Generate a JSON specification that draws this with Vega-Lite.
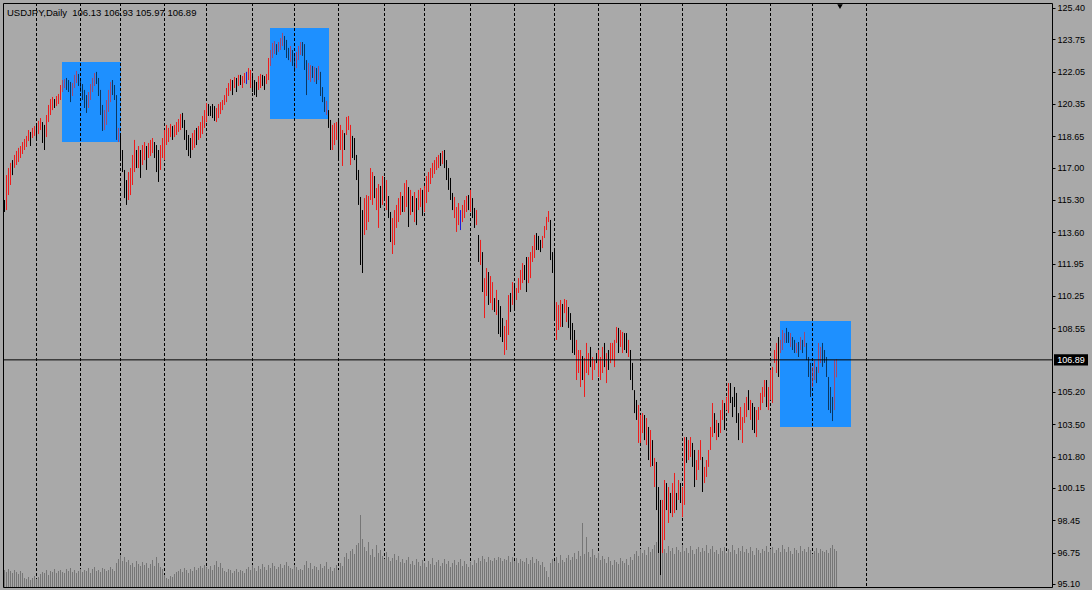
{
"$schema": "https://vega.github.io/schema/vega-lite/v6.json",
"width": 1049, "height": 584,
"autosize": "none",
"padding": {"left": 3, "top": 3, "right": 40, "bottom": 3},
"background": "#a9a9a9",
"config": {"view": {"stroke": "#000000", "strokeWidth": 1, "fill": "#a9a9a9"}, "font": "Liberation Sans"},
"datasets": {
"one": [{"k": 1}],
"grid": [{"d":16},{"d":38},{"d":58},{"d":80},{"d":101},{"d":124},{"d":145},{"d":167},{"d":190},{"d":210},{"d":233},{"d":255},{"d":275},{"d":297},{"d":318},{"d":339},{"d":361},{"d":383},{"d":404},{"d":431}],
"boxes": [{"a":28.75,"b":58.25,"p1":122.56,"p2":118.35},{"a":132.75,"b":162.25,"p1":124.35,"p2":119.56},{"a":387.75,"b":423.25,"p1":108.94,"p2":103.36}],
"bars": [
{"i":0,"h":115.30,"l":114.67,"u":0,"v":17},
{"i":1,"h":116.61,"l":114.77,"u":1,"v":15},
{"i":2,"h":116.98,"l":115.56,"u":1,"v":18},
{"i":3,"h":117.25,"l":116.09,"u":1,"v":16},
{"i":4,"h":117.40,"l":116.61,"u":0,"v":14},
{"i":5,"h":117.67,"l":116.99,"u":1,"v":17},
{"i":6,"h":117.88,"l":117.14,"u":1,"v":15},
{"i":7,"h":118.04,"l":117.30,"u":1,"v":13},
{"i":8,"h":118.14,"l":117.51,"u":1,"v":16},
{"i":9,"h":118.35,"l":117.72,"u":1,"v":14},
{"i":10,"h":118.51,"l":117.93,"u":1,"v":9},
{"i":11,"h":118.67,"l":118.09,"u":1,"v":8},
{"i":12,"h":118.98,"l":118.40,"u":1,"v":10},
{"i":13,"h":118.88,"l":118.14,"u":0,"v":7},
{"i":14,"h":119.09,"l":118.56,"u":1,"v":9},
{"i":15,"h":119.19,"l":118.67,"u":1,"v":11},
{"i":16,"h":119.25,"l":118.46,"u":0,"v":8},
{"i":17,"h":119.46,"l":118.77,"u":1,"v":10},
{"i":18,"h":119.61,"l":118.98,"u":1,"v":13},
{"i":19,"h":119.40,"l":118.30,"u":0,"v":15},
{"i":20,"h":119.25,"l":117.93,"u":0,"v":14},
{"i":21,"h":119.77,"l":118.61,"u":1,"v":17},
{"i":22,"h":120.30,"l":119.40,"u":1,"v":12},
{"i":23,"h":120.61,"l":119.77,"u":1,"v":16},
{"i":24,"h":120.72,"l":120.03,"u":1,"v":15},
{"i":25,"h":120.61,"l":120.14,"u":0,"v":18},
{"i":26,"h":120.77,"l":120.24,"u":1,"v":14},
{"i":27,"h":120.88,"l":120.35,"u":1,"v":16},
{"i":28,"h":121.35,"l":120.56,"u":1,"v":17},
{"i":29,"h":121.61,"l":120.98,"u":1,"v":15},
{"i":30,"h":121.66,"l":121.19,"u":1,"v":14},
{"i":31,"h":121.72,"l":121.09,"u":0,"v":18},
{"i":32,"h":121.61,"l":120.98,"u":0,"v":16},
{"i":33,"h":121.51,"l":120.45,"u":0,"v":19},
{"i":34,"h":121.45,"l":120.77,"u":1,"v":15},
{"i":35,"h":121.88,"l":121.19,"u":1,"v":17},
{"i":36,"h":122.09,"l":121.45,"u":1,"v":14},
{"i":37,"h":121.93,"l":121.30,"u":0,"v":16},
{"i":38,"h":121.72,"l":120.98,"u":0,"v":18},
{"i":39,"h":121.40,"l":120.56,"u":0,"v":15},
{"i":40,"h":121.09,"l":120.14,"u":0,"v":17},
{"i":41,"h":120.82,"l":119.88,"u":0,"v":16},
{"i":42,"h":120.98,"l":120.14,"u":1,"v":19},
{"i":43,"h":121.40,"l":120.56,"u":1,"v":14},
{"i":44,"h":121.72,"l":120.98,"u":1,"v":18},
{"i":45,"h":121.98,"l":121.30,"u":1,"v":20},
{"i":46,"h":122.04,"l":121.40,"u":0,"v":16},
{"i":47,"h":121.72,"l":120.77,"u":0,"v":17},
{"i":48,"h":121.09,"l":119.77,"u":0,"v":15},
{"i":49,"h":120.30,"l":118.93,"u":0,"v":19},
{"i":50,"h":120.03,"l":118.98,"u":1,"v":18},
{"i":51,"h":120.56,"l":119.25,"u":1,"v":16},
{"i":52,"h":121.09,"l":119.93,"u":1,"v":17},
{"i":53,"h":121.51,"l":120.45,"u":1,"v":20},
{"i":54,"h":121.61,"l":120.82,"u":0,"v":18},
{"i":55,"h":121.35,"l":120.56,"u":0,"v":16},
{"i":56,"h":120.82,"l":118.46,"u":0,"v":24},
{"i":57,"h":119.09,"l":118.35,"u":1,"v":28},
{"i":58,"h":118.82,"l":117.40,"u":0,"v":32},
{"i":59,"h":117.93,"l":116.77,"u":0,"v":26},
{"i":60,"h":116.88,"l":115.40,"u":0,"v":30},
{"i":61,"h":116.35,"l":115.04,"u":0,"v":25},
{"i":62,"h":116.77,"l":115.30,"u":1,"v":27},
{"i":63,"h":116.98,"l":115.56,"u":1,"v":22},
{"i":64,"h":117.67,"l":116.09,"u":1,"v":24},
{"i":65,"h":118.46,"l":116.77,"u":1,"v":20},
{"i":66,"h":117.93,"l":116.98,"u":0,"v":26},
{"i":67,"h":118.14,"l":116.98,"u":1,"v":23},
{"i":68,"h":117.93,"l":116.46,"u":0,"v":21},
{"i":69,"h":118.19,"l":117.14,"u":1,"v":25},
{"i":70,"h":118.35,"l":117.40,"u":1,"v":22},
{"i":71,"h":118.14,"l":116.88,"u":0,"v":24},
{"i":72,"h":118.30,"l":117.51,"u":1,"v":19},
{"i":73,"h":118.46,"l":117.61,"u":1,"v":23},
{"i":74,"h":118.56,"l":117.77,"u":1,"v":27},
{"i":75,"h":118.35,"l":117.51,"u":0,"v":21},
{"i":76,"h":118.19,"l":116.77,"u":0,"v":30},
{"i":77,"h":117.93,"l":116.25,"u":0,"v":24},
{"i":78,"h":118.19,"l":116.88,"u":1,"v":20},
{"i":79,"h":118.56,"l":117.51,"u":1,"v":18},
{"i":80,"h":118.98,"l":117.40,"u":1,"v":12},
{"i":81,"h":119.25,"l":118.19,"u":1,"v":9},
{"i":82,"h":119.09,"l":118.35,"u":1,"v":8},
{"i":83,"h":119.30,"l":118.61,"u":1,"v":11},
{"i":84,"h":119.19,"l":118.46,"u":0,"v":10},
{"i":85,"h":119.25,"l":118.61,"u":1,"v":13},
{"i":86,"h":119.40,"l":118.72,"u":1,"v":15},
{"i":87,"h":119.56,"l":118.88,"u":1,"v":16},
{"i":88,"h":119.82,"l":118.98,"u":1,"v":18},
{"i":89,"h":119.88,"l":119.09,"u":0,"v":15},
{"i":90,"h":119.51,"l":118.46,"u":0,"v":19},
{"i":91,"h":118.98,"l":117.93,"u":0,"v":17},
{"i":92,"h":118.72,"l":117.61,"u":0,"v":14},
{"i":93,"h":118.56,"l":117.51,"u":0,"v":18},
{"i":94,"h":118.82,"l":117.93,"u":1,"v":16},
{"i":95,"h":118.98,"l":118.04,"u":1,"v":20},
{"i":96,"h":119.09,"l":118.19,"u":0,"v":17},
{"i":97,"h":119.19,"l":118.46,"u":1,"v":19},
{"i":98,"h":119.40,"l":118.56,"u":1,"v":21},
{"i":99,"h":119.72,"l":118.77,"u":1,"v":19},
{"i":100,"h":120.03,"l":119.09,"u":1,"v":22},
{"i":101,"h":120.40,"l":119.40,"u":1,"v":20},
{"i":102,"h":120.35,"l":119.72,"u":0,"v":18},
{"i":103,"h":120.24,"l":119.72,"u":0,"v":21},
{"i":104,"h":120.35,"l":119.61,"u":0,"v":17},
{"i":105,"h":120.24,"l":119.46,"u":0,"v":22},
{"i":106,"h":120.14,"l":119.40,"u":1,"v":26},
{"i":107,"h":120.35,"l":119.61,"u":1,"v":20},
{"i":108,"h":120.45,"l":119.82,"u":1,"v":24},
{"i":109,"h":120.56,"l":120.03,"u":1,"v":19},
{"i":110,"h":120.82,"l":120.30,"u":1,"v":16},
{"i":111,"h":121.19,"l":120.45,"u":1,"v":15},
{"i":112,"h":121.45,"l":120.77,"u":1,"v":18},
{"i":113,"h":121.66,"l":121.04,"u":1,"v":17},
{"i":114,"h":121.61,"l":120.82,"u":0,"v":14},
{"i":115,"h":121.77,"l":121.19,"u":1,"v":16},
{"i":116,"h":121.72,"l":120.98,"u":0,"v":18},
{"i":117,"h":121.88,"l":121.30,"u":1,"v":15},
{"i":118,"h":121.88,"l":121.35,"u":0,"v":17},
{"i":119,"h":121.82,"l":121.19,"u":1,"v":16},
{"i":120,"h":121.98,"l":121.45,"u":1,"v":14},
{"i":121,"h":122.04,"l":121.40,"u":2,"v":18},
{"i":122,"h":122.24,"l":121.61,"u":1,"v":20},
{"i":123,"h":122.14,"l":121.19,"u":1,"v":17},
{"i":124,"h":121.82,"l":120.98,"u":0,"v":22},
{"i":125,"h":121.61,"l":120.82,"u":0,"v":19},
{"i":126,"h":121.51,"l":120.72,"u":0,"v":16},
{"i":127,"h":121.82,"l":121.09,"u":1,"v":21},
{"i":128,"h":121.93,"l":121.19,"u":1,"v":18},
{"i":129,"h":121.88,"l":121.30,"u":0,"v":23},
{"i":130,"h":121.82,"l":121.09,"u":0,"v":20},
{"i":131,"h":121.93,"l":121.40,"u":1,"v":17},
{"i":132,"h":122.77,"l":121.61,"u":1,"v":22},
{"i":133,"h":123.19,"l":122.35,"u":1,"v":19},
{"i":134,"h":123.56,"l":122.77,"u":1,"v":24},
{"i":135,"h":123.66,"l":122.98,"u":1,"v":21},
{"i":136,"h":123.50,"l":122.93,"u":0,"v":18},
{"i":137,"h":123.61,"l":123.09,"u":1,"v":20},
{"i":138,"h":123.82,"l":123.19,"u":1,"v":23},
{"i":139,"h":124.09,"l":123.40,"u":1,"v":19},
{"i":140,"h":123.93,"l":123.19,"u":0,"v":22},
{"i":141,"h":123.72,"l":122.77,"u":0,"v":25},
{"i":142,"h":123.30,"l":122.66,"u":0,"v":21},
{"i":143,"h":123.40,"l":122.56,"u":1,"v":19},
{"i":144,"h":123.19,"l":122.35,"u":0,"v":18},
{"i":145,"h":122.88,"l":122.04,"u":0,"v":22},
{"i":146,"h":123.09,"l":122.24,"u":1,"v":20},
{"i":147,"h":123.40,"l":122.66,"u":1,"v":17},
{"i":148,"h":123.61,"l":122.93,"u":1,"v":18},
{"i":149,"h":123.61,"l":122.88,"u":0,"v":17},
{"i":150,"h":123.50,"l":122.14,"u":0,"v":22},
{"i":151,"h":122.66,"l":120.82,"u":0,"v":26},
{"i":152,"h":122.51,"l":121.61,"u":1,"v":19},
{"i":153,"h":122.40,"l":121.51,"u":1,"v":24},
{"i":154,"h":122.35,"l":121.72,"u":0,"v":18},
{"i":155,"h":122.30,"l":121.51,"u":1,"v":21},
{"i":156,"h":122.24,"l":121.40,"u":0,"v":20},
{"i":157,"h":122.35,"l":121.61,"u":1,"v":17},
{"i":158,"h":122.04,"l":120.77,"u":0,"v":23},
{"i":159,"h":121.24,"l":120.45,"u":0,"v":19},
{"i":160,"h":120.72,"l":119.93,"u":0,"v":21},
{"i":161,"h":120.51,"l":119.77,"u":1,"v":25},
{"i":162,"h":120.03,"l":119.09,"u":0,"v":18},
{"i":163,"h":119.51,"l":117.93,"u":0,"v":20},
{"i":164,"h":119.25,"l":117.93,"u":1,"v":16},
{"i":165,"h":119.35,"l":118.19,"u":1,"v":19},
{"i":166,"h":119.40,"l":118.46,"u":1,"v":22},
{"i":167,"h":119.51,"l":117.51,"u":0,"v":17},
{"i":168,"h":119.25,"l":117.93,"u":1,"v":24},
{"i":169,"h":118.98,"l":117.09,"u":1,"v":21},
{"i":170,"h":118.82,"l":117.93,"u":0,"v":30},
{"i":171,"h":119.67,"l":118.72,"u":1,"v":34},
{"i":172,"h":119.72,"l":118.98,"u":1,"v":28},
{"i":173,"h":119.25,"l":117.14,"u":1,"v":36},
{"i":174,"h":118.67,"l":117.51,"u":0,"v":38},
{"i":175,"h":118.56,"l":117.40,"u":0,"v":33},
{"i":176,"h":117.67,"l":116.35,"u":0,"v":42},
{"i":177,"h":116.88,"l":115.04,"u":0,"v":44},
{"i":178,"h":115.46,"l":111.88,"u":0,"v":72},
{"i":179,"h":114.77,"l":111.46,"u":0,"v":48},
{"i":180,"h":115.40,"l":113.46,"u":1,"v":40},
{"i":181,"h":115.56,"l":113.72,"u":1,"v":36},
{"i":182,"h":115.51,"l":114.14,"u":1,"v":45},
{"i":183,"h":116.98,"l":115.30,"u":1,"v":32},
{"i":184,"h":116.77,"l":115.04,"u":1,"v":38},
{"i":185,"h":116.56,"l":115.40,"u":0,"v":30},
{"i":186,"h":115.93,"l":114.77,"u":1,"v":42},
{"i":187,"h":116.14,"l":113.83,"u":1,"v":34},
{"i":188,"h":116.04,"l":114.88,"u":0,"v":37},
{"i":189,"h":116.56,"l":115.04,"u":1,"v":31},
{"i":190,"h":116.51,"l":115.30,"u":0,"v":28},
{"i":191,"h":116.35,"l":114.77,"u":1,"v":35},
{"i":192,"h":115.51,"l":114.35,"u":0,"v":30},
{"i":193,"h":114.67,"l":113.09,"u":0,"v":26},
{"i":194,"h":114.35,"l":112.46,"u":1,"v":29},
{"i":195,"h":114.77,"l":112.93,"u":1,"v":33},
{"i":196,"h":115.04,"l":113.83,"u":1,"v":27},
{"i":197,"h":115.40,"l":114.14,"u":1,"v":31},
{"i":198,"h":115.72,"l":114.51,"u":1,"v":25},
{"i":199,"h":115.51,"l":114.67,"u":0,"v":28},
{"i":200,"h":116.19,"l":114.67,"u":1,"v":24},
{"i":201,"h":116.35,"l":114.93,"u":1,"v":27},
{"i":202,"h":115.98,"l":113.88,"u":0,"v":30},
{"i":203,"h":115.83,"l":114.51,"u":1,"v":23},
{"i":204,"h":115.51,"l":114.67,"u":0,"v":26},
{"i":205,"h":115.72,"l":114.14,"u":1,"v":22},
{"i":206,"h":115.40,"l":113.98,"u":0,"v":28},
{"i":207,"h":115.83,"l":114.77,"u":1,"v":25},
{"i":208,"h":115.93,"l":114.93,"u":1,"v":21},
{"i":209,"h":115.83,"l":114.46,"u":0,"v":27},
{"i":210,"h":116.04,"l":114.67,"u":1,"v":24},
{"i":211,"h":116.56,"l":115.14,"u":1,"v":20},
{"i":212,"h":116.77,"l":115.72,"u":1,"v":26},
{"i":213,"h":116.98,"l":116.14,"u":1,"v":23},
{"i":214,"h":117.25,"l":116.46,"u":1,"v":29},
{"i":215,"h":117.40,"l":116.67,"u":1,"v":22},
{"i":216,"h":117.56,"l":116.88,"u":1,"v":25},
{"i":217,"h":117.67,"l":116.98,"u":1,"v":27},
{"i":218,"h":117.77,"l":117.09,"u":0,"v":21},
{"i":219,"h":117.88,"l":117.19,"u":1,"v":24},
{"i":220,"h":117.93,"l":116.98,"u":0,"v":28},
{"i":221,"h":117.40,"l":116.35,"u":0,"v":23},
{"i":222,"h":116.98,"l":115.83,"u":0,"v":26},
{"i":223,"h":116.46,"l":115.30,"u":0,"v":20},
{"i":224,"h":115.67,"l":114.77,"u":0,"v":24},
{"i":225,"h":115.46,"l":114.35,"u":1,"v":27},
{"i":226,"h":114.93,"l":113.62,"u":1,"v":22},
{"i":227,"h":115.14,"l":113.98,"u":1,"v":25},
{"i":228,"h":114.77,"l":113.72,"u":2,"v":28},
{"i":229,"h":115.04,"l":114.14,"u":1,"v":21},
{"i":230,"h":115.30,"l":114.35,"u":1,"v":26},
{"i":231,"h":115.51,"l":114.67,"u":1,"v":23},
{"i":232,"h":115.56,"l":114.77,"u":0,"v":20},
{"i":233,"h":115.83,"l":114.67,"u":1,"v":25},
{"i":234,"h":115.40,"l":114.35,"u":0,"v":22},
{"i":235,"h":114.88,"l":113.83,"u":0,"v":27},
{"i":236,"h":114.77,"l":113.98,"u":1,"v":24},
{"i":237,"h":113.46,"l":112.04,"u":0,"v":29},
{"i":238,"h":113.20,"l":111.88,"u":1,"v":26},
{"i":239,"h":112.56,"l":110.46,"u":0,"v":31},
{"i":240,"h":111.19,"l":109.09,"u":1,"v":28},
{"i":241,"h":111.72,"l":110.25,"u":1,"v":25},
{"i":242,"h":111.51,"l":109.78,"u":0,"v":30},
{"i":243,"h":111.30,"l":109.88,"u":1,"v":27},
{"i":244,"h":110.98,"l":109.51,"u":1,"v":26},
{"i":245,"h":110.14,"l":109.41,"u":0,"v":29},
{"i":246,"h":110.57,"l":109.25,"u":1,"v":27},
{"i":247,"h":110.04,"l":108.25,"u":0,"v":30},
{"i":248,"h":109.72,"l":108.09,"u":0,"v":29},
{"i":249,"h":109.09,"l":107.83,"u":0,"v":26},
{"i":250,"h":108.67,"l":107.15,"u":1,"v":28},
{"i":251,"h":108.99,"l":107.41,"u":1,"v":27},
{"i":252,"h":110.30,"l":108.20,"u":1,"v":31},
{"i":253,"h":110.41,"l":109.41,"u":0,"v":25},
{"i":254,"h":110.98,"l":109.78,"u":1,"v":30},
{"i":255,"h":110.83,"l":109.51,"u":0,"v":26},
{"i":256,"h":110.67,"l":110.04,"u":1,"v":29},
{"i":257,"h":111.19,"l":110.41,"u":1,"v":24},
{"i":258,"h":111.62,"l":110.57,"u":1,"v":28},
{"i":259,"h":111.98,"l":110.93,"u":1,"v":26},
{"i":260,"h":111.88,"l":111.09,"u":0,"v":25},
{"i":261,"h":112.30,"l":110.46,"u":0,"v":29},
{"i":262,"h":112.30,"l":110.93,"u":1,"v":23},
{"i":263,"h":112.56,"l":111.19,"u":1,"v":27},
{"i":264,"h":112.88,"l":112.04,"u":1,"v":30},
{"i":265,"h":113.46,"l":112.25,"u":1,"v":24},
{"i":266,"h":113.56,"l":112.67,"u":0,"v":28},
{"i":267,"h":113.41,"l":112.67,"u":0,"v":26},
{"i":268,"h":113.20,"l":112.56,"u":0,"v":22},
{"i":269,"h":113.41,"l":112.77,"u":1,"v":25},
{"i":270,"h":113.93,"l":113.30,"u":1,"v":20},
{"i":271,"h":114.41,"l":113.72,"u":1,"v":16},
{"i":272,"h":114.72,"l":114.14,"u":1,"v":10},
{"i":273,"h":114.25,"l":112.14,"u":0,"v":24},
{"i":274,"h":112.56,"l":111.46,"u":0,"v":28},
{"i":275,"h":112.67,"l":108.99,"u":0,"v":26},
{"i":276,"h":109.93,"l":107.94,"u":1,"v":30},
{"i":277,"h":109.78,"l":108.46,"u":1,"v":24},
{"i":278,"h":110.04,"l":108.62,"u":1,"v":32},
{"i":279,"h":109.83,"l":108.62,"u":0,"v":27},
{"i":280,"h":110.09,"l":109.35,"u":1,"v":25},
{"i":281,"h":110.04,"l":108.88,"u":1,"v":29},
{"i":282,"h":109.67,"l":108.57,"u":0,"v":32},
{"i":283,"h":109.35,"l":107.94,"u":0,"v":27},
{"i":284,"h":108.83,"l":107.25,"u":0,"v":30},
{"i":285,"h":108.46,"l":107.15,"u":0,"v":34},
{"i":286,"h":107.94,"l":105.83,"u":1,"v":28},
{"i":287,"h":107.41,"l":106.20,"u":1,"v":36},
{"i":288,"h":107.41,"l":105.46,"u":1,"v":31},
{"i":289,"h":107.09,"l":105.83,"u":0,"v":64},
{"i":290,"h":106.99,"l":104.94,"u":1,"v":33},
{"i":291,"h":107.78,"l":106.20,"u":1,"v":50},
{"i":292,"h":107.25,"l":106.09,"u":1,"v":35},
{"i":293,"h":107.57,"l":106.51,"u":0,"v":30},
{"i":294,"h":107.04,"l":105.83,"u":1,"v":38},
{"i":295,"h":106.88,"l":106.36,"u":1,"v":32},
{"i":296,"h":107.25,"l":106.72,"u":0,"v":29},
{"i":297,"h":107.41,"l":105.99,"u":1,"v":34},
{"i":298,"h":107.04,"l":105.83,"u":1,"v":27},
{"i":299,"h":107.57,"l":106.20,"u":1,"v":31},
{"i":300,"h":107.78,"l":106.51,"u":0,"v":28},
{"i":301,"h":107.25,"l":105.67,"u":1,"v":24},
{"i":302,"h":107.41,"l":106.36,"u":0,"v":30},
{"i":303,"h":107.78,"l":106.72,"u":1,"v":26},
{"i":304,"h":107.78,"l":106.88,"u":1,"v":22},
{"i":305,"h":107.94,"l":106.51,"u":1,"v":27},
{"i":306,"h":108.62,"l":107.78,"u":1,"v":25},
{"i":307,"h":108.57,"l":107.25,"u":0,"v":23},
{"i":308,"h":108.46,"l":107.57,"u":1,"v":29},
{"i":309,"h":108.36,"l":107.25,"u":1,"v":26},
{"i":310,"h":108.30,"l":107.41,"u":0,"v":24},
{"i":311,"h":108.30,"l":107.25,"u":0,"v":28},
{"i":312,"h":107.94,"l":107.04,"u":1,"v":22},
{"i":313,"h":107.41,"l":105.83,"u":0,"v":30},
{"i":314,"h":106.73,"l":105.30,"u":0,"v":27},
{"i":315,"h":105.30,"l":104.09,"u":0,"v":33},
{"i":316,"h":104.78,"l":103.73,"u":0,"v":36},
{"i":317,"h":104.52,"l":102.52,"u":1,"v":31},
{"i":318,"h":103.99,"l":102.52,"u":1,"v":38},
{"i":319,"h":104.09,"l":103.04,"u":1,"v":34},
{"i":320,"h":103.99,"l":102.67,"u":0,"v":37},
{"i":321,"h":103.83,"l":102.41,"u":1,"v":32},
{"i":322,"h":103.36,"l":101.62,"u":0,"v":40},
{"i":323,"h":103.20,"l":101.26,"u":1,"v":35},
{"i":324,"h":102.67,"l":101.31,"u":0,"v":38},
{"i":325,"h":101.73,"l":100.20,"u":1,"v":42},
{"i":326,"h":101.52,"l":98.99,"u":0,"v":45},
{"i":327,"h":100.20,"l":96.73,"u":0,"v":50},
{"i":328,"h":99.52,"l":95.57,"u":0,"v":40},
{"i":329,"h":99.52,"l":96.73,"u":1,"v":36},
{"i":330,"h":100.57,"l":97.41,"u":1,"v":38},
{"i":331,"h":100.41,"l":98.99,"u":0,"v":34},
{"i":332,"h":100.20,"l":98.31,"u":1,"v":41},
{"i":333,"h":99.89,"l":98.83,"u":0,"v":36},
{"i":334,"h":100.41,"l":98.62,"u":1,"v":39},
{"i":335,"h":100.94,"l":98.83,"u":1,"v":33},
{"i":336,"h":99.89,"l":98.99,"u":0,"v":40},
{"i":337,"h":100.57,"l":99.52,"u":1,"v":37},
{"i":338,"h":100.41,"l":99.36,"u":0,"v":35},
{"i":339,"h":100.20,"l":98.62,"u":1,"v":42},
{"i":340,"h":102.83,"l":99.26,"u":1,"v":36},
{"i":341,"h":102.83,"l":101.47,"u":0,"v":39},
{"i":342,"h":102.67,"l":101.62,"u":1,"v":34},
{"i":343,"h":102.83,"l":101.78,"u":1,"v":41},
{"i":344,"h":102.52,"l":101.26,"u":0,"v":37},
{"i":345,"h":102.15,"l":100.20,"u":0,"v":33},
{"i":346,"h":101.62,"l":100.57,"u":1,"v":38},
{"i":347,"h":102.15,"l":101.10,"u":1,"v":40},
{"i":348,"h":102.67,"l":101.62,"u":1,"v":35},
{"i":349,"h":101.78,"l":99.94,"u":0,"v":39},
{"i":350,"h":101.26,"l":100.41,"u":1,"v":36},
{"i":351,"h":101.62,"l":100.73,"u":1,"v":42},
{"i":352,"h":102.15,"l":101.26,"u":1,"v":34},
{"i":353,"h":103.36,"l":102.15,"u":1,"v":38},
{"i":354,"h":104.62,"l":102.83,"u":1,"v":41},
{"i":355,"h":104.09,"l":103.04,"u":0,"v":35},
{"i":356,"h":103.73,"l":102.67,"u":1,"v":37},
{"i":357,"h":103.57,"l":102.83,"u":0,"v":33},
{"i":358,"h":104.25,"l":103.04,"u":1,"v":39},
{"i":359,"h":104.78,"l":103.73,"u":1,"v":36},
{"i":360,"h":104.62,"l":103.20,"u":0,"v":40},
{"i":361,"h":104.94,"l":104.25,"u":1,"v":34},
{"i":362,"h":105.67,"l":104.09,"u":1,"v":38},
{"i":363,"h":105.67,"l":104.62,"u":0,"v":35},
{"i":364,"h":104.94,"l":103.88,"u":0,"v":42},
{"i":365,"h":105.46,"l":104.41,"u":0,"v":37},
{"i":366,"h":105.15,"l":103.57,"u":0,"v":33},
{"i":367,"h":104.09,"l":102.67,"u":0,"v":39},
{"i":368,"h":104.41,"l":103.20,"u":1,"v":36},
{"i":369,"h":103.88,"l":102.52,"u":1,"v":41},
{"i":370,"h":104.62,"l":103.57,"u":1,"v":35},
{"i":371,"h":104.94,"l":103.88,"u":1,"v":38},
{"i":372,"h":105.30,"l":104.25,"u":0,"v":34},
{"i":373,"h":104.78,"l":103.73,"u":1,"v":40},
{"i":374,"h":104.62,"l":103.20,"u":0,"v":36},
{"i":375,"h":104.41,"l":103.04,"u":0,"v":32},
{"i":376,"h":104.25,"l":102.83,"u":1,"v":39},
{"i":377,"h":104.41,"l":103.73,"u":1,"v":37},
{"i":378,"h":105.15,"l":104.25,"u":1,"v":34},
{"i":379,"h":105.46,"l":104.62,"u":1,"v":38},
{"i":380,"h":105.83,"l":104.94,"u":1,"v":36},
{"i":381,"h":105.83,"l":104.41,"u":0,"v":41},
{"i":382,"h":105.46,"l":104.25,"u":1,"v":35},
{"i":383,"h":106.36,"l":104.78,"u":1,"v":38},
{"i":384,"h":106.52,"l":104.62,"u":1,"v":40},
{"i":385,"h":107.41,"l":106.73,"u":1,"v":34},
{"i":386,"h":107.78,"l":106.20,"u":1,"v":37},
{"i":387,"h":108.09,"l":105.99,"u":0,"v":39},
{"i":388,"h":107.94,"l":107.25,"u":1,"v":35},
{"i":389,"h":108.46,"l":107.41,"u":1,"v":42},
{"i":390,"h":108.30,"l":107.78,"u":1,"v":38},
{"i":391,"h":108.57,"l":107.78,"u":0,"v":35},
{"i":392,"h":108.36,"l":107.78,"u":0,"v":40},
{"i":393,"h":108.30,"l":107.57,"u":1,"v":36},
{"i":394,"h":108.09,"l":107.41,"u":0,"v":33},
{"i":395,"h":107.94,"l":107.25,"u":0,"v":39},
{"i":396,"h":107.78,"l":107.25,"u":1,"v":37},
{"i":397,"h":107.83,"l":107.04,"u":0,"v":34},
{"i":398,"h":108.09,"l":107.41,"u":1,"v":41},
{"i":399,"h":107.94,"l":107.25,"u":0,"v":36},
{"i":400,"h":108.36,"l":107.57,"u":1,"v":38},
{"i":401,"h":107.78,"l":106.88,"u":0,"v":35},
{"i":402,"h":107.04,"l":105.99,"u":0,"v":40},
{"i":403,"h":106.73,"l":104.94,"u":0,"v":37},
{"i":404,"h":106.52,"l":105.46,"u":1,"v":33},
{"i":405,"h":106.88,"l":105.83,"u":1,"v":36},
{"i":406,"h":106.52,"l":105.67,"u":0,"v":39},
{"i":407,"h":107.78,"l":106.20,"u":1,"v":34},
{"i":408,"h":107.57,"l":106.73,"u":1,"v":38},
{"i":409,"h":107.78,"l":106.52,"u":0,"v":36},
{"i":410,"h":107.41,"l":106.73,"u":0,"v":35},
{"i":411,"h":107.04,"l":105.99,"u":0,"v":37},
{"i":412,"h":105.99,"l":104.25,"u":0,"v":34},
{"i":413,"h":105.46,"l":104.09,"u":0,"v":39},
{"i":414,"h":104.94,"l":103.67,"u":0,"v":42},
{"i":415,"h":106.88,"l":104.25,"u":1,"v":38},
{"i":416,"h":106.93,"l":105.97,"u":1,"v":36}
]
},
"layer": [
{
"data": {"name": "boxes"},
"mark": {"type": "rect", "color": "#1e90ff", "opacity": 1},
"encoding": {
"x": {"field": "a", "type": "quantitative", "scale": {"domain": [-0.75, 523.75], "nice": false, "zero": false}, "axis": null},
"x2": {"field": "b"},
"y": {"field": "p1", "type": "quantitative", "scale": {"domain": [94.942, 125.663], "nice": false, "zero": false}, "axis": null},
"y2": {"field": "p2"}
}
},
{
"data": {"name": "grid"},
"mark": {"type": "rule", "color": "#000000", "strokeWidth": 1, "strokeDash": [3, 2]},
"encoding": {"x": {"field": "d", "type": "quantitative", "scale": {"domain": [-0.75, 523.75], "nice": false, "zero": false}, "axis": null}}
},
{
"data": {"name": "bars"},
"mark": {"type": "rule", "color": "#767676", "strokeWidth": 1},
"encoding": {
"x": {"field": "i", "type": "quantitative", "scale": {"domain": [-0.75, 523.75], "nice": false, "zero": false}, "axis": null},
"y": {"field": "v", "type": "quantitative", "scale": {"domain": [0, 584], "nice": false, "zero": false}, "axis": null},
"y2": {"datum": 0}
}
},
{
"data": {"name": "bars"},
"mark": {"type": "rule", "strokeWidth": 1},
"encoding": {
"x": {"field": "i", "type": "quantitative", "scale": {"domain": [-0.75, 523.75], "nice": false, "zero": false}, "axis": null},
"y": {"field": "h", "type": "quantitative", "scale": {"domain": [94.942, 125.663], "nice": false, "zero": false},
"axis": {"orient": "right", "values": [125.40, 123.75, 122.05, 120.35, 118.65, 117.00, 115.30, 113.60, 111.95, 110.25, 108.55, 105.20, 103.50, 101.80, 100.15, 98.45, 96.75, 95.10], "format": ".2f", "tickSize": 3, "tickColor": "#000000", "domain": false, "grid": false, "labelFont": "Liberation Sans", "labelFontSize": 9, "labelColor": "#000000", "labelPadding": 2, "title": null, "labelOverlap": false, "labelBound": false, "labelFlush": false}},
"y2": {"field": "l"},
"color": {"field": "u", "type": "nominal", "scale": {"domain": [0, 1, 2], "range": ["#000000", "#ee1c1c", "#1c1cd8"]}, "legend": null},
"opacity": {"condition": {"test": "(datum.i >= 29 && datum.i <= 57) || (datum.i >= 133 && datum.i <= 161) || datum.i >= 388", "value": 0.62}, "value": 1}
}
},
{
"data": {"name": "one"},
"mark": {"type": "rule", "color": "#000000", "strokeWidth": 1},
"encoding": {"y": {"datum": 106.89, "type": "quantitative", "scale": {"domain": [94.942, 125.663], "nice": false, "zero": false}, "axis": null}}
},
{
"data": {"name": "one"},
"mark": {"type": "rect", "color": "#000000"},
"encoding": {
"x": {"datum": 524.75, "type": "quantitative", "scale": {"domain": [-0.75, 523.75], "nice": false, "zero": false}, "axis": null},
"x2": {"datum": 541.75},
"y": {"datum": 107.18, "type": "quantitative", "scale": {"domain": [94.942, 125.663], "nice": false, "zero": false}, "axis": null},
"y2": {"datum": 106.60}
}
},
{
"data": {"name": "one"},
"mark": {"type": "text", "text": "106.89", "color": "#ffffff", "font": "Liberation Sans", "fontSize": 9, "align": "center", "baseline": "middle"},
"encoding": {
"x": {"datum": 533.25, "type": "quantitative", "scale": {"domain": [-0.75, 523.75], "nice": false, "zero": false}, "axis": null},
"y": {"datum": 106.89, "type": "quantitative", "scale": {"domain": [94.942, 125.663], "nice": false, "zero": false}, "axis": null}
}
},
{
"data": {"name": "one"},
"mark": {"type": "point", "shape": "triangle-down", "filled": true, "color": "#000000", "size": 30, "opacity": 1},
"encoding": {
"x": {"datum": 417.75, "type": "quantitative", "scale": {"domain": [-0.75, 523.75], "nice": false, "zero": false}, "axis": null},
"y": {"datum": 125.47, "type": "quantitative", "scale": {"domain": [94.942, 125.663], "nice": false, "zero": false}, "axis": null}
}
},
{
"data": {"name": "one"},
"mark": {"type": "text", "text": "USDJPY,Daily\u00a0 106.13 106.93 105.97 106.89", "color": "#000000", "font": "Liberation Sans", "fontSize": 9.5, "align": "left", "baseline": "middle"},
"encoding": {
"x": {"datum": 1.25, "type": "quantitative", "scale": {"domain": [-0.75, 523.75], "nice": false, "zero": false}, "axis": null},
"y": {"datum": 125.14, "type": "quantitative", "scale": {"domain": [94.942, 125.663], "nice": false, "zero": false}, "axis": null}
}
}
],
"resolve": {"scale": {"y": "independent"}, "axis": {"y": "independent"}}
}
